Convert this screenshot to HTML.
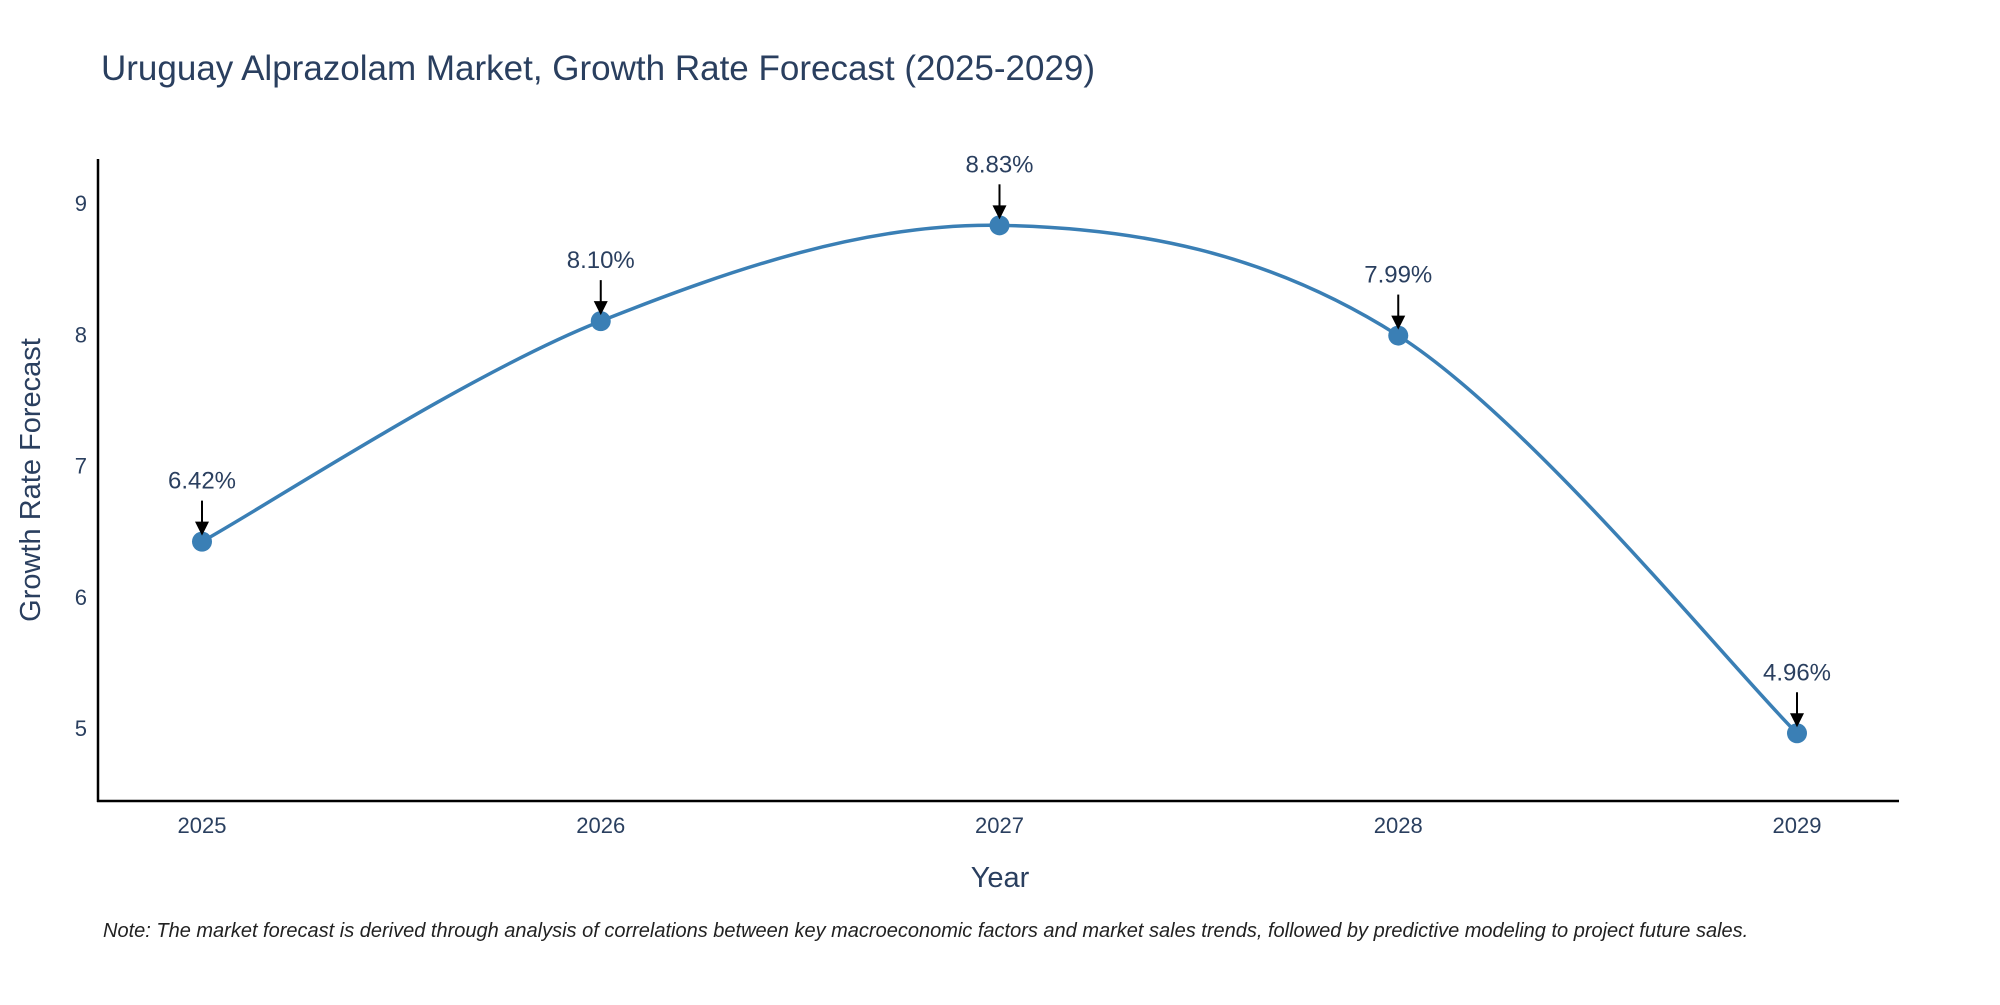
<!DOCTYPE html>
<html><head><meta charset="utf-8"><style>
body{margin:0;background:#fff;}
svg text{font-family:"Liberation Sans","DejaVu Sans",sans-serif;}
</style></head><body>
<svg id="chart" width="2000" height="1000" xmlns="http://www.w3.org/2000/svg">
<text x="101" y="80" font-size="35" fill="#2a3f5f">Uruguay Alprazolam Market, Growth Rate Forecast (2025-2029)</text>
<g id="plot"></g>
<line x1="98" y1="159" x2="98" y2="802" stroke="#000" stroke-width="2.5"/>
<line x1="97" y1="801" x2="1899" y2="801" stroke="#000" stroke-width="2.5"/>
<text x="1000" y="887" font-size="29" fill="#2a3f5f" text-anchor="middle">Year</text>
<text transform="translate(40,480) rotate(-90)" font-size="29" fill="#2a3f5f" text-anchor="middle">Growth Rate Forecast</text>
<text x="103" y="937" font-size="20" font-style="italic" fill="#222">Note: The market forecast is derived through analysis of correlations between key macroeconomic factors and market sales trends, followed by predictive modeling to project future sales.</text>
</svg>
<script>
const years=["2025","2026","2027","2028","2029"];
const growth=[6.42,8.10,8.83,7.99,4.96];
const yTicks=[5,6,7,8,9];
const labels=["6.42%","8.10%","8.83%","7.99%","4.96%"];
const NS="http://www.w3.org/2000/svg";
const g=document.getElementById('plot');
function xs(i){return 202+i*(1797-202)/(years.length-1);}
function ys(v){return 728-(v-5)*131.25;}
function mk(t,a){const e=document.createElementNS(NS,t);for(const k in a)e.setAttribute(k,a[k]);return e;}
yTicks.forEach(v=>{const t=mk('text',{x:87,y:ys(v)+8,'font-size':22,fill:'#2a3f5f','text-anchor':'end'});


t.textContent=v;g.appendChild(t);});
years.forEach((y,i)=>{const t=mk('text',{x:xs(i),y:833,'font-size':22,fill:'#2a3f5f','text-anchor':'middle'});


t.textContent=y;g.appendChild(t);});
const P=growth.map((v,i)=>[xs(i),ys(v)]);
let d='M'+P[0][0]+','+P[0][1];
for(let i=0;i<P.length-1;i++){const p0=P[Math.max(0,i-1)],p1=P[i],p2=P[i+1],p3=P[Math.min(P.length-1,i+2)];
const c1=[p1[0]+(p2[0]-p0[0])/6,p1[1]+(p2[1]-p0[1])/6],c2=[p2[0]-(p3[0]-p1[0])/6,p2[1]-(p3[1]-p1[1])/6];
d+=` C${c1[0]},${c1[1]} ${c2[0]},${c2[1]} ${p2[0]},${p2[1]}`;}
const line=mk('path',{d:d,fill:'none',stroke:'#3a7fb5','stroke-width':3.5});


g.appendChild(line);
P.forEach((p,i)=>{const c=mk('circle',{cx:p[0],cy:p[1],r:10,fill:'#3a7fb5'});


g.appendChild(c);
const a=mk('line',{x1:p[0],y1:p[1]-41,x2:p[0],y2:p[1]-18,stroke:'#000','stroke-width':2});


g.appendChild(a);
const h=mk('polygon',{points:`${p[0]-7},${p[1]-20} ${p[0]+7},${p[1]-20} ${p[0]},${p[1]-6}`,fill:'#000'});


g.appendChild(h);
const t=mk('text',{x:p[0],y:p[1]-53,'font-size':24,fill:'#2a3f5f','text-anchor':'middle'});


t.textContent=labels[i];g.appendChild(t);});
</script>
</body></html>
